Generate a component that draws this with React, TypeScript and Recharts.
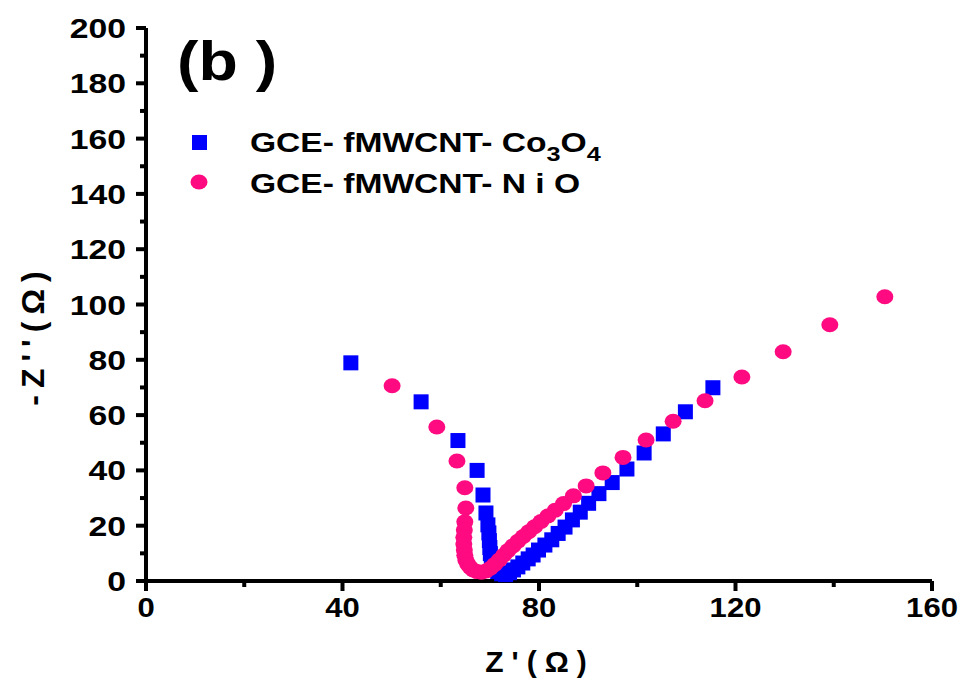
import React from "react";
import { ScatterChart, Scatter, XAxis, YAxis } from "recharts";

// Nyquist plot, panel (b): Z' vs -Z'' (ohm)
const co3o4Points: [number, number][] = [
  [41.7, 78.9], [56.0, 64.8], [63.5, 50.8], [67.4, 40.0], [68.6, 31.1],
  [69.2, 24.6], [69.6, 20.3], [69.8, 17.4], [69.9, 14.6], [70.0, 12.1],
  [70.1, 9.9], [70.3, 7.9], [70.6, 6.1], [71.0, 4.6], [71.6, 3.4],
  [72.4, 2.6], [73.2, 2.3], [74.0, 3.0], [74.8, 4.0], [75.7, 5.1],
  [76.7, 6.5], [77.8, 8.0], [78.8, 9.4], [79.9, 11.2], [81.2, 13.0],
  [82.6, 14.9], [83.9, 17.2], [85.3, 19.5], [86.8, 22.1], [88.4, 24.9],
  [90.1, 28.1], [92.2, 31.6], [94.9, 35.6], [97.9, 40.5], [101.4, 46.3],
  [105.3, 53.2], [109.8, 61.2], [115.4, 69.9],
];

const nioPoints: [number, number][] = [
  [50.1, 70.6], [59.2, 55.7], [63.3, 43.4], [64.9, 33.7], [65.1, 26.4],
  [64.9, 21.4], [64.8, 18.4], [64.7, 15.8], [64.7, 13.4], [64.8, 11.2],
  [64.9, 9.3], [65.1, 7.6], [65.5, 6.1], [66.0, 4.9], [66.6, 4.0],
  [67.4, 3.4], [68.3, 3.2], [69.2, 3.6], [70.1, 4.6], [71.0, 6.0],
  [71.9, 7.6], [72.8, 9.3], [73.7, 11.0], [74.7, 12.7], [75.7, 14.4],
  [76.8, 16.1], [77.9, 17.8], [79.1, 19.6], [80.4, 21.5], [81.8, 23.5],
  [83.3, 25.6], [85.0, 28.0], [87.0, 30.8], [89.6, 34.4], [93.0, 39.1],
  [97.1, 44.7], [101.8, 51.0], [107.3, 57.8], [113.8, 65.2], [121.3, 73.8],
  [129.7, 82.9], [139.2, 92.7], [150.4, 102.8],
];

const xTicks = [0, 20, 40, 60, 80, 100, 120, 140, 160];
const yTicks = [0, 10, 20, 30, 40, 50, 60, 70, 80, 90, 100, 110, 120, 130, 140, 150, 160, 170, 180, 190, 200];
const xLabelEvery = 40;
const yLabelEvery = 20;

const BLUE = "#0000ff";
const PINK = "#ff0a80";
const FONT = "'Liberation Sans', Arial, sans-serif";

const toData = (pts: [number, number][]) => pts.map(([x, y]) => ({ x, y }));

const Square = (p: any) => (
  <rect x={p.cx - 7.5} y={p.cy - 7.5} width={15} height={15} fill={BLUE} />
);
const Dot = (p: any) => <ellipse cx={p.cx} cy={p.cy} rx={8.5} ry={7.5} fill={PINK} />;

const XTick = (p: any) => {
  const v = p.payload.value;
  const major = v % xLabelEvery === 0;
  return (
    <g>
      <line x1={p.x} x2={p.x} y1={p.y} y2={p.y + (major ? 10 : 6)} stroke="#000" strokeWidth={4} />
      {major && (
        <text
          transform={`translate(${p.x},${p.y + 36}) scale(1.15,1)`}
          textAnchor="middle"
          fontFamily={FONT}
          fontWeight="bold"
          fontSize={27}
          fill="#000"
        >
          {v}
        </text>
      )}
    </g>
  );
};

const YTick = (p: any) => {
  const v = p.payload.value;
  const major = v % yLabelEvery === 0;
  return (
    <g>
      <line x1={p.x} x2={p.x - (major ? 10 : 6)} y1={p.y} y2={p.y} stroke="#000" strokeWidth={4} />
      {major && (
        <text
          transform={`translate(${p.x - 20},${p.y + 10}) scale(1.25,1)`}
          textAnchor="end"
          fontFamily={FONT}
          fontWeight="bold"
          fontSize={27}
          fill="#000"
        >
          {v}
        </text>
      )}
    </g>
  );
};

export default function App() {
  return (
    <div style={{ position: "absolute", left: 0, top: 0, width: 962, height: 682, background: "#fff" }}>
      <ScatterChart width={962} height={682} margin={{ top: 28, right: 30, left: 0, bottom: 0 }}>
        <XAxis
          type="number"
          dataKey="x"
          domain={[0, 160]}
          ticks={xTicks}
          height={101}
          tickLine={false}
          tickSize={0}
          tickMargin={0}
          tick={<XTick />}
          axisLine={{ stroke: "#000", strokeWidth: 4 }}
          interval={0}
        />
        <YAxis
          type="number"
          dataKey="y"
          domain={[0, 200]}
          ticks={yTicks}
          width={146}
          tickLine={false}
          tickSize={0}
          tickMargin={0}
          tick={<YTick />}
          axisLine={{ stroke: "#000", strokeWidth: 4 }}
          interval={0}
        />
        <Scatter data={toData(co3o4Points)} shape={Square} isAnimationActive={false} />
        <Scatter data={toData(nioPoints)} shape={Dot} isAnimationActive={false} />
      </ScatterChart>
      <svg
        width={962}
        height={682}
        style={{ position: "absolute", left: 0, top: 0, pointerEvents: "none" }}
        fontFamily={FONT}
        fontWeight="bold"
      >
        <text transform="translate(177,80) scale(1.15,1)" fontSize={56}>(b )</text>
        <rect x={192} y={135} width={15} height={15} fill={BLUE} />
        <text transform="translate(250,152) scale(1.2,1)" fontSize={28}>
          GCE- fMWCNT- Co<tspan dy={9} fontSize={21}>3</tspan>
          <tspan dy={-9}>O</tspan>
          <tspan dy={9} fontSize={21}>4</tspan>
        </text>
        <ellipse cx={199} cy={182} rx={8.5} ry={7.5} fill={PINK} />
        <text transform="translate(250,193) scale(1.2,1)" fontSize={28}>
          GCE- fMWCNT- N i O
        </text>
        <text
          transform="translate(44,335) rotate(-90)"
          textAnchor="middle"
          fontSize={32}
          letterSpacing={7}
        >
          -Z''(Ω)
        </text>
        <text x={540} y={672} textAnchor="middle" fontSize={30} letterSpacing={8}>
          Z'(Ω)
        </text>
      </svg>
    </div>
  );
}
